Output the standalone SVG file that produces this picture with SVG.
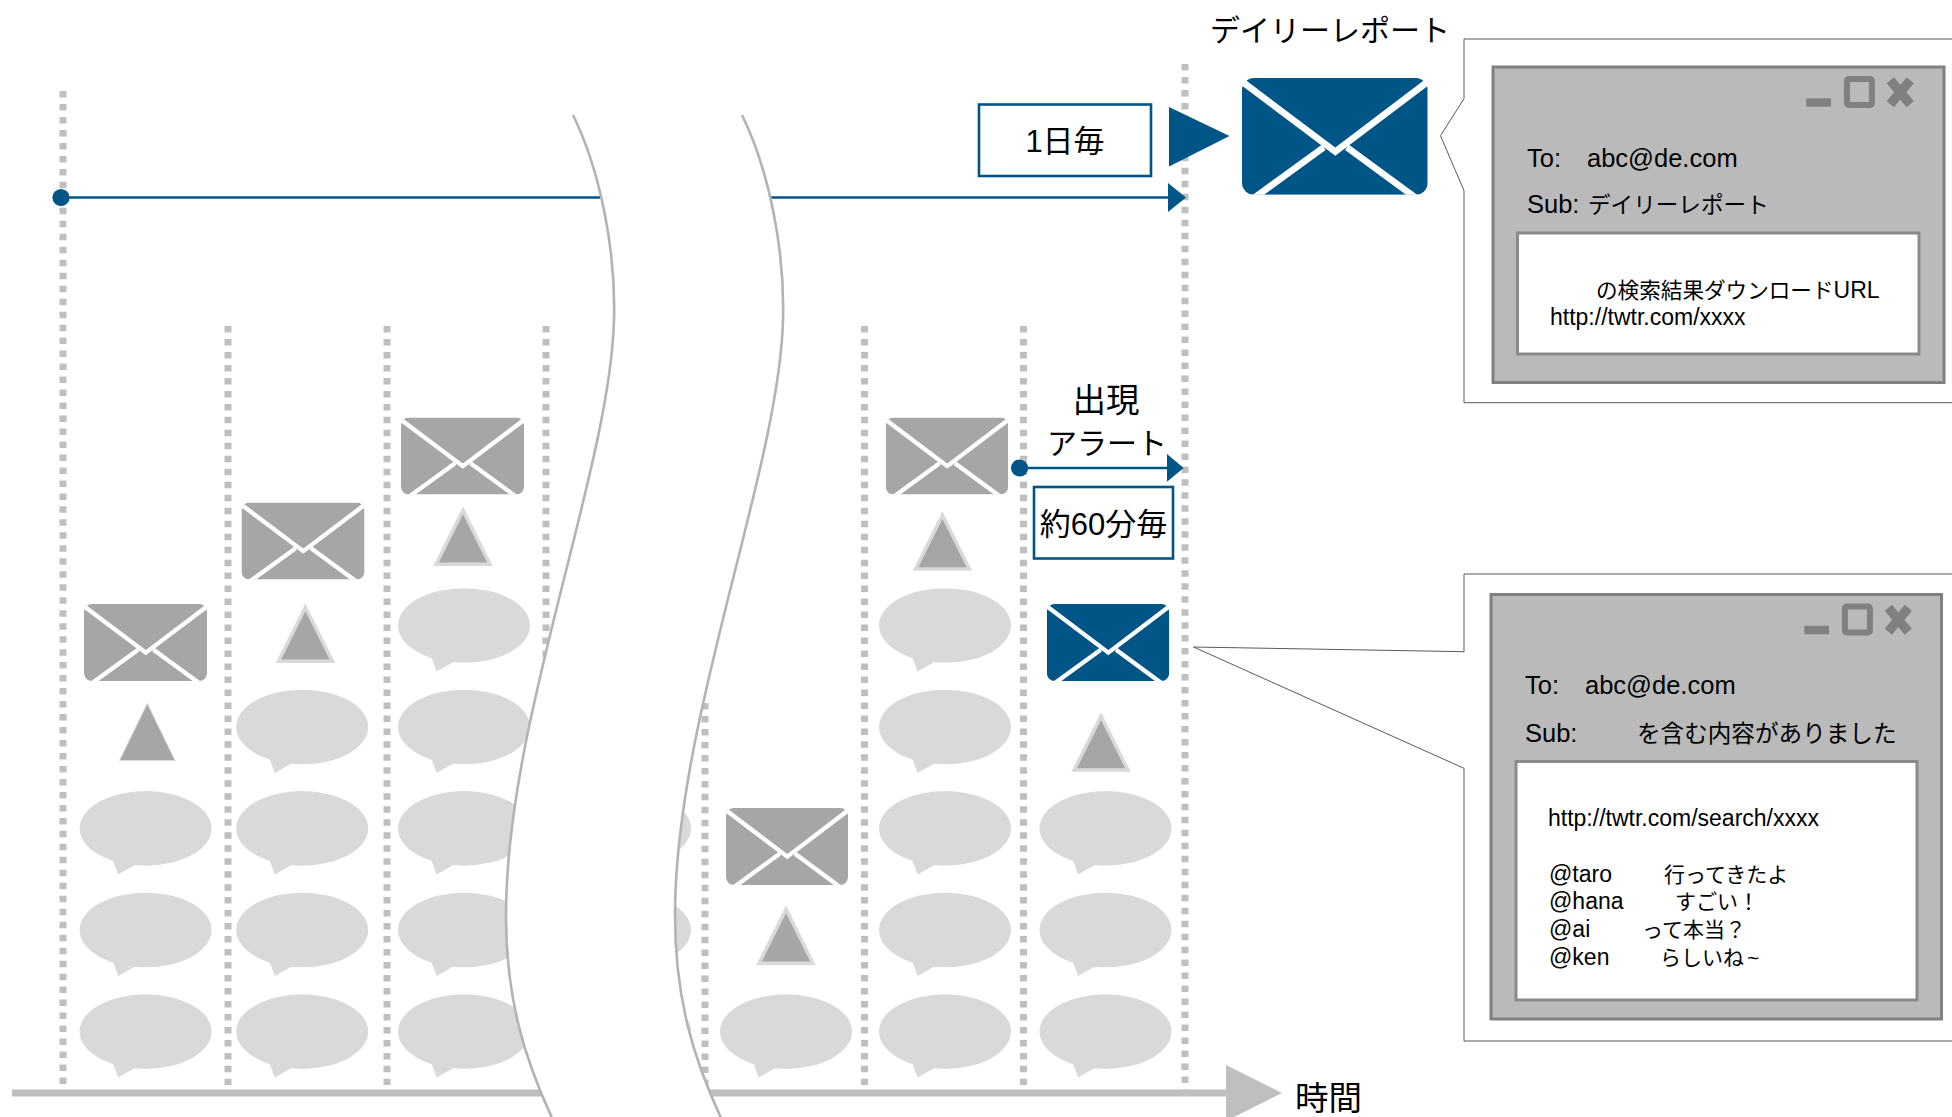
<svg xmlns="http://www.w3.org/2000/svg" xmlns:xlink="http://www.w3.org/1999/xlink" width="1952" height="1117" viewBox="0 0 1952 1117">
<style>
text{font-family:"Liberation Sans","Noto Sans CJK JP",sans-serif;fill:#000}
.t34{font-size:33.5px}.t30{font-size:30px}.t31{font-size:31px}.t26{font-size:25.5px}.t23{font-size:23px}
.j23{font-size:22.6px}.j21{font-size:21px}.j215{font-size:21.6px}.j24{font-size:23.6px}
.mid{text-anchor:middle}
.dot{stroke:#bfbfbf;stroke-width:7;stroke-dasharray:6.5 6.48;fill:none}
.bl{stroke:#005587;stroke-width:2.6;fill:none}
.blf{fill:#005587}
.gr{fill:#a6a6a6}
.lbl{fill:#fff;stroke:#005587;stroke-width:2.6}
.bub{fill:#d9d9d9}
.tri{fill:#a6a6a6;stroke:#d9d9d9;stroke-width:3.5}
.brk{stroke:#b3b3b3;stroke-width:2.6;fill:none}
.call{fill:#fff;stroke:#595959;stroke-width:1}
.win{fill:#b9bab9;stroke:#808080;stroke-width:3}
.body{fill:#fff;stroke:#8a8a8a;stroke-width:3}
.ico{fill:#808080}
.icoS{fill:none;stroke:#808080}
</style>
<defs>
<symbol id="env" viewBox="0 0 185.7 116.7" preserveAspectRatio="none" overflow="hidden">
<rect x="0" y="0" width="185.7" height="116.7" rx="12" ry="12"/>
<path d="M2,5 L93.3,73.7 L184,5 M81.7,69.3 L12,120 M105,69.3 L174,120" fill="none" stroke="#fff" stroke-width="6.6"/>
</symbol>
<g id="bubble">
<ellipse cx="0" cy="0" rx="66" ry="37.3"/>
<polygon points="-34,28 -27.4,46 -8,35"/>
</g>
<polygon id="tr" points="0,-55.6 -26.9,-1.75 26.9,-1.75"/>
<g id="winIcons">
<rect x="0" y="0" width="24.7" height="8.4" class="ico"/>
<rect x="40.6" y="-19.3" width="25" height="26" rx="2" class="icoS" stroke-width="6"/>
<path d="M84,-18 L104,6 M104,-18 L84,6" class="icoS" stroke-width="9.5"/>
</g>
</defs>

<g id="connectors">
<path class="dot" d="M63,91V1095"/>
<path class="dot" d="M228,326V1085"/>
<path class="dot" d="M387,326V1085"/>
<path class="dot" d="M546,326V1085"/>
<path class="dot" d="M705,703V1085"/>
<path class="dot" d="M864.5,326V1085"/>
<path class="dot" d="M1023.5,326V1085"/>
<path class="dot" d="M1185,64V1095"/>
<path id="axis" d="M12,1093H1230" stroke="#bfbfbf" stroke-width="7" fill="none"/>
<polygon points="1226,1065 1282,1093 1226,1121" fill="#bfbfbf"/>
<path class="bl" d="M60,197.5H1172"/>
<circle class="blf" cx="61" cy="197.5" r="8.6"/>
<polygon class="blf" points="1168,183 1186,197.5 1168,212"/>
<polygon class="blf" points="1169,107 1229.5,136 1169,166.5"/>
<path class="bl" d="M1020,468H1170"/>
<circle class="blf" cx="1019.6" cy="468" r="8.6"/>
<polygon class="blf" points="1167,454 1183.6,468 1167,481.7"/>
</g>

<g id="bubbles" class="bub">
<use xlink:href="#bubble" href="#bubble" x="145.6" y="828.4"/>
<use xlink:href="#bubble" href="#bubble" x="145.6" y="930"/>
<use xlink:href="#bubble" href="#bubble" x="145.6" y="1031.6"/>
<use xlink:href="#bubble" href="#bubble" x="302.2" y="727"/>
<use xlink:href="#bubble" href="#bubble" x="302.2" y="828.4"/>
<use xlink:href="#bubble" href="#bubble" x="302.2" y="930"/>
<use xlink:href="#bubble" href="#bubble" x="302.2" y="1031.6"/>
<use xlink:href="#bubble" href="#bubble" x="464" y="625.5"/>
<use xlink:href="#bubble" href="#bubble" x="464" y="727"/>
<use xlink:href="#bubble" href="#bubble" x="464" y="828.4"/>
<use xlink:href="#bubble" href="#bubble" x="464" y="930"/>
<use xlink:href="#bubble" href="#bubble" x="464" y="1031.6"/>
<use xlink:href="#bubble" href="#bubble" x="625" y="828.4"/>
<use xlink:href="#bubble" href="#bubble" x="625" y="930"/>
<use xlink:href="#bubble" href="#bubble" x="625" y="1031.6"/>
<use xlink:href="#bubble" href="#bubble" x="786" y="1031.6"/>
<use xlink:href="#bubble" href="#bubble" x="945" y="625.5"/>
<use xlink:href="#bubble" href="#bubble" x="945" y="727"/>
<use xlink:href="#bubble" href="#bubble" x="945" y="828.4"/>
<use xlink:href="#bubble" href="#bubble" x="945" y="930"/>
<use xlink:href="#bubble" href="#bubble" x="945" y="1031.6"/>
<use xlink:href="#bubble" href="#bubble" x="1105.5" y="828.4"/>
<use xlink:href="#bubble" href="#bubble" x="1105.5" y="930"/>
<use xlink:href="#bubble" href="#bubble" x="1105.5" y="1031.6"/>
</g>

<g id="triangles">
<polygon points="147.3,703.5 119.5,760.5 175,760.5" fill="#a6a6a6" stroke="#d9d9d9" stroke-width="1"/>
<use xlink:href="#tr" href="#tr" class="tri" x="305.4" y="663"/>
<use xlink:href="#tr" href="#tr" class="tri" x="463" y="566"/>
<use xlink:href="#tr" href="#tr" class="tri" x="786" y="965"/>
<use xlink:href="#tr" href="#tr" class="tri" x="942.5" y="570.7"/>
<use xlink:href="#tr" href="#tr" class="tri" x="1101" y="771.7"/>
</g>

<g id="mails">
<use xlink:href="#env" href="#env" class="gr" x="84" y="604" width="123" height="77"/>
<use xlink:href="#env" href="#env" class="gr" x="241.5" y="502.5" width="123" height="77"/>
<use xlink:href="#env" href="#env" class="gr" x="401" y="417.5" width="123" height="77"/>
<use xlink:href="#env" href="#env" class="gr" x="726" y="808" width="122" height="77"/>
<use xlink:href="#env" href="#env" class="gr" x="885.7" y="417.5" width="122.5" height="77"/>
<use xlink:href="#env" href="#env" class="blf" x="1046.8" y="604" width="122.5" height="77"/>
<use xlink:href="#env" href="#env" class="blf" x="1242" y="78" width="185.7" height="116.7"/>
</g>

<g id="break">
<path d="M573,115 C600,170 616,250 614,320 C610,470 506,720 506,915 C506,1000 525,1060 553,1120 L722,1120 C694,1060 675,1000 675,915 C675,720 779,470 783,320 C785,250 769,170 742,115 Z" fill="#fff"/>
<path class="brk" d="M573,115 C600,170 616,250 614,320 C610,470 506,720 506,915 C506,1000 525,1060 553,1120"/>
<path class="brk" d="M742,115 C769,170 785,250 783,320 C779,470 675,720 675,915 C675,1000 694,1060 722,1120"/>
</g>

<g id="label-daily">
<rect class="lbl" x="979" y="104.5" width="172" height="71.5"/>
<text class="t31 mid" x="1065" y="152">1日毎</text>
</g>
<g id="label-hourly">
<rect class="lbl" x="1034" y="487" width="139" height="71.5"/>
<text class="t31 mid" x="1103.5" y="535">約60分毎</text>
</g>
<text id="title-daily" class="t30" x="1210" y="41">デイリーレポート</text>
<g id="title-alert">
<text class="t34 mid" x="1106" y="412">出現</text>
<text class="t30 mid" x="1107" y="454">アラート</text>
</g>
<text id="axis-label" class="t34" x="1295" y="1110">時間</text>

<g id="popup-daily">
<path class="call" d="M1960,39 H1464 V98.7 L1440.5,135.7 L1464,190.7 V402.7 H1960"/>
<rect class="win" x="1493" y="67" width="451" height="315.5"/>
<use xlink:href="#winIcons" href="#winIcons" x="1806.3" y="98.3"/>
<text class="t26" x="1527" y="166.7">To:</text><text class="t26" x="1587" y="166.7">abc@de.com</text>
<text class="t26" x="1527" y="212.7">Sub:</text><text class="j23" x="1588" y="212.7">デイリーレポート</text>
<rect class="body" x="1517.5" y="233" width="401.5" height="121"/>
<text class="j215" x="1596" y="298">の検索結果ダウンロード<tspan class="t23">URL</tspan></text>
<text class="t23" x="1550" y="325">http://twtr.com/xxxx</text>
</g>

<g id="popup-alert">
<path class="call" d="M1960,574 H1464 V651.7 L1193.5,647 L1464,768.3 V1041 H1960"/>
<rect class="win" x="1491" y="594.5" width="450.5" height="424.5"/>
<use xlink:href="#winIcons" href="#winIcons" x="1804.3" y="625.8"/>
<text class="t26" x="1525" y="694.3">To:</text><text class="t26" x="1585" y="694.3">abc@de.com</text>
<text class="t26" x="1525" y="741.7">Sub:</text><text class="j24" x="1637" y="741.7">を含む内容がありました</text>
<rect class="body" x="1516" y="761.5" width="401" height="238.5"/>
<text class="t23" x="1548" y="825.7">http://twtr.com/search/xxxx</text>
<text class="t23" x="1549" y="881.7">@taro</text><text class="j21" x="1664" y="881.7">行ってきたよ</text>
<text class="t23" x="1549" y="909">@hana</text><text class="j21" x="1675" y="909">すごい！</text>
<text class="t23" x="1549" y="936.7">@ai</text><text class="j21" x="1642" y="936.7">って本当？</text>
<text class="t23" x="1549" y="965">@ken</text><text class="j21" x="1660" y="965">らしいね<tspan dx="3">~</tspan></text>
</g>
</svg>
